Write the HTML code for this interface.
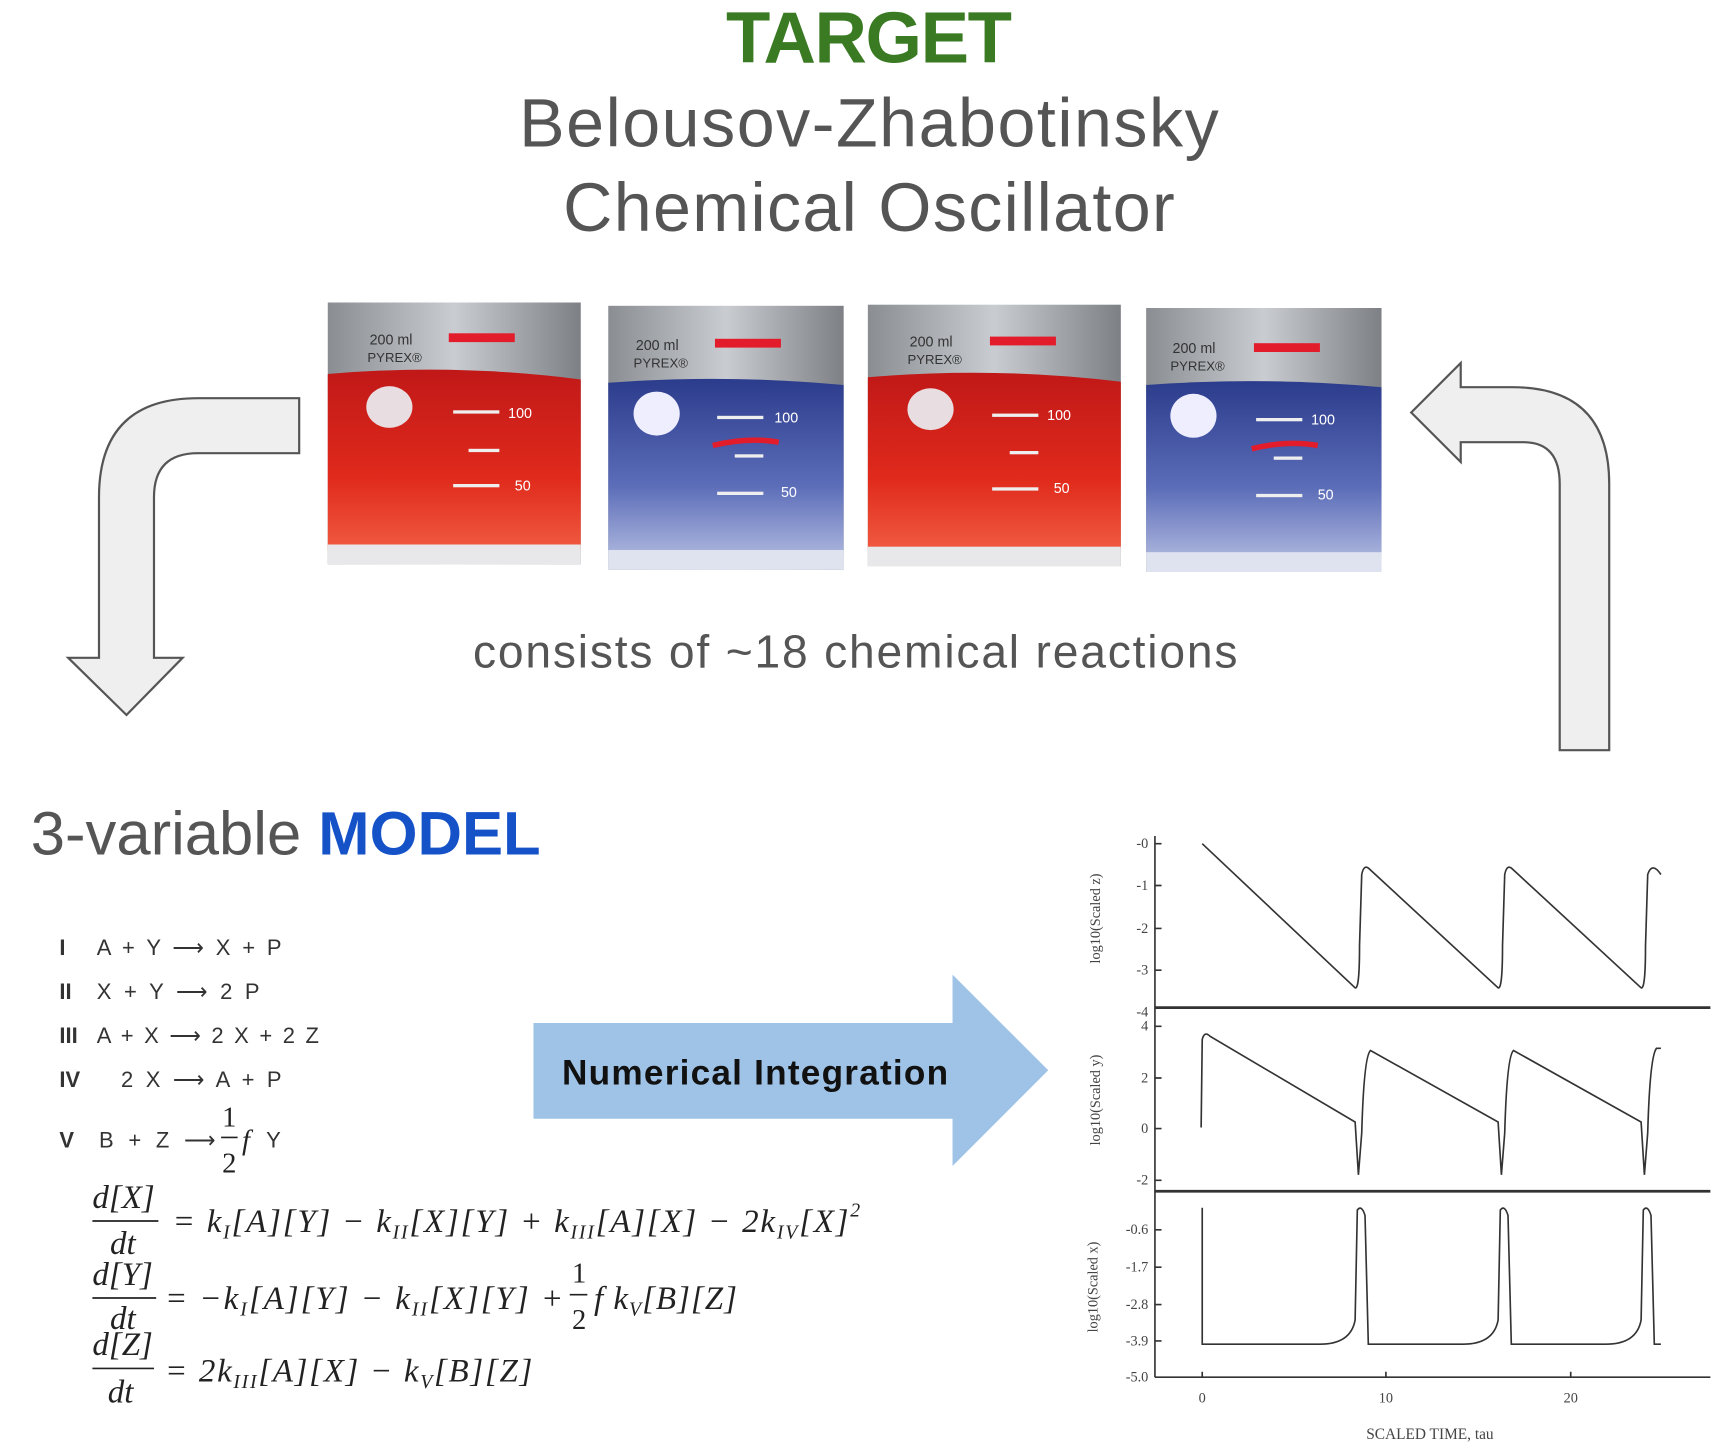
<!DOCTYPE html>
<html><head><meta charset="utf-8"><style>html,body{margin:0;padding:0;background:#fff}svg{display:block}</style></head>
<body>
<svg width="1717" height="1452" viewBox="0 0 1561 1320" preserveAspectRatio="none" xmlns="http://www.w3.org/2000/svg" font-family="Liberation Sans, sans-serif">
<defs>
<linearGradient id="red" x1="0" y1="0" x2="0" y2="1"><stop offset="0" stop-color="#c01818"/><stop offset="0.6" stop-color="#e02a1c"/><stop offset="1" stop-color="#f05a40"/></linearGradient>
<linearGradient id="blue" x1="0" y1="0" x2="0" y2="1"><stop offset="0" stop-color="#2c3c8c"/><stop offset="0.6" stop-color="#5b6cb8"/><stop offset="1" stop-color="#aab4dc"/></linearGradient>
<linearGradient id="glass" x1="0" y1="0" x2="1" y2="0"><stop offset="0" stop-color="#8a8d92"/><stop offset="0.5" stop-color="#c9ccd0"/><stop offset="1" stop-color="#7d8085"/></linearGradient>
</defs>
<text x="790" y="57" text-anchor="middle" font-size="66" font-weight="bold" fill="#3a7a23" textLength="260">TARGET</text>
<text x="790" y="133" text-anchor="middle" font-size="62" fill="#555" textLength="636">Belousov-Zhabotinsky</text>
<text x="790" y="210" text-anchor="middle" font-size="62" fill="#555" textLength="556">Chemical Oscillator</text>

<g>
<rect x="298" y="275" width="230" height="238" fill="url(#glass)"/>
<path d="M298 340 Q413 330 528 345 L528 500 L298 500Z" fill="url(#red)"/>
<rect x="298" y="495" width="230" height="18" fill="#e8e8ea"/>
<rect x="408" y="303" width="60" height="8" fill="#e31c2c"/>
<ellipse cx="354" cy="370" rx="21" ry="19" fill="#e8dde0"/>
<rect x="412" y="373" width="42" height="3" fill="#eee"/><rect x="412" y="440" width="42" height="3" fill="#eee"/><rect x="426" y="408" width="28" height="3" fill="#eee"/>
<text x="462" y="380" font-size="13" fill="#fff">100</text><text x="468" y="446" font-size="13" fill="#fff">50</text>
<text x="336" y="313" font-size="13" fill="#333">200 ml</text><text x="334" y="329" font-size="12" fill="#333">PYREX®</text>
</g>
<g>
<rect x="553" y="278" width="214" height="240" fill="url(#glass)"/>
<path d="M553 348 Q660 340 767 350 L767 505 L553 505Z" fill="url(#blue)"/>
<rect x="553" y="500" width="214" height="18" fill="#dfe3f0"/>
<rect x="650" y="308" width="60" height="8" fill="#e31c2c"/>
<ellipse cx="597" cy="376" rx="21" ry="20" fill="#eef"/>
<rect x="652" y="378" width="42" height="3" fill="#eee"/><rect x="652" y="447" width="42" height="3" fill="#eee"/><rect x="668" y="413" width="26" height="3" fill="#eee"/>
<path d="M648 405 Q680 397 708 402" stroke="#e31c2c" stroke-width="5" fill="none"/>
<text x="704" y="384" font-size="13" fill="#fff">100</text><text x="710" y="452" font-size="13" fill="#fff">50</text>
<text x="578" y="318" font-size="13" fill="#333">200 ml</text><text x="576" y="334" font-size="12" fill="#333">PYREX®</text>
</g>
<g>
<rect x="789" y="277" width="230" height="238" fill="url(#glass)"/>
<path d="M789 343 Q904 333 1019 347 L1019 500 L789 500Z" fill="url(#red)"/>
<rect x="789" y="497" width="230" height="18" fill="#e8e8ea"/>
<rect x="900" y="306" width="60" height="8" fill="#e31c2c"/>
<ellipse cx="846" cy="372" rx="21" ry="19" fill="#e8dde0"/>
<rect x="902" y="376" width="42" height="3" fill="#eee"/><rect x="902" y="443" width="42" height="3" fill="#eee"/><rect x="918" y="410" width="26" height="3" fill="#eee"/>
<text x="952" y="382" font-size="13" fill="#fff">100</text><text x="958" y="448" font-size="13" fill="#fff">50</text>
<text x="827" y="315" font-size="13" fill="#333">200 ml</text><text x="825" y="331" font-size="12" fill="#333">PYREX®</text>
</g>
<g>
<rect x="1042" y="280" width="214" height="240" fill="url(#glass)"/>
<path d="M1042 350 Q1149 342 1256 352 L1256 507 L1042 507Z" fill="url(#blue)"/>
<rect x="1042" y="502" width="214" height="18" fill="#dfe3f0"/>
<rect x="1140" y="312" width="60" height="8" fill="#e31c2c"/>
<ellipse cx="1085" cy="378" rx="21" ry="20" fill="#eef"/>
<rect x="1142" y="380" width="42" height="3" fill="#eee"/><rect x="1142" y="449" width="42" height="3" fill="#eee"/><rect x="1158" y="415" width="26" height="3" fill="#eee"/>
<path d="M1138 408 Q1170 400 1198 405" stroke="#e31c2c" stroke-width="5" fill="none"/>
<text x="1192" y="386" font-size="13" fill="#fff">100</text><text x="1198" y="454" font-size="13" fill="#fff">50</text>
<text x="1066" y="321" font-size="13" fill="#333">200 ml</text><text x="1064" y="337" font-size="12" fill="#333">PYREX®</text>
</g>

<path d="M272 362 L180 362 Q90 362 90 452 L90 598 L62 598 L115 650 L166 598 L140 598 L140 452 Q140 412 180 412 L272 412 Z" fill="#efefef" stroke="#555" stroke-width="2"/>
<path d="M1418 682 L1463 682 L1463 440 Q1463 352 1375 352 L1328 352 L1328 330 L1283 375 L1328 420 L1328 402 L1385 402 Q1418 402 1418 440 Z" fill="#efefef" stroke="#555" stroke-width="2"/>

<text x="430" y="607" font-size="42" fill="#555" textLength="695">consists of ~18 chemical reactions</text>
<text x="28" y="777" font-size="56" fill="#555">3-variable <tspan font-weight="bold" fill="#1552c8">MODEL</tspan></text>

<g font-size="20" fill="#333">
<text x="54" y="868" font-weight="bold">I</text><text x="88" y="868" textLength="168">A + Y ⟶ X + P</text>
<text x="54" y="908" font-weight="bold">II</text><text x="88" y="908" textLength="148">X + Y ⟶ 2 P</text>
<text x="54" y="948" font-weight="bold">III</text><text x="88" y="948" textLength="202">A + X ⟶ 2 X + 2 Z</text>
<text x="54" y="988" font-weight="bold">IV</text><text x="110" y="988" textLength="146">2 X ⟶ A + P</text>
<text x="54" y="1043" font-weight="bold">V</text><text x="90" y="1043" textLength="106">B + Z ⟶</text><text x="242" y="1043">Y</text>
</g>
<g font-family="Liberation Serif, serif" fill="#222">
<text x="202" y="1024" font-size="26">1</text><line x1="201" y1="1034" x2="216" y2="1034" stroke="#222" stroke-width="1.5"/><text x="202" y="1066" font-size="26">2</text>
<text x="220" y="1045" font-size="26" font-style="italic">f</text>
<g font-size="30" font-style="italic">
<text x="84" y="1098">d[X]</text><line x1="84" y1="1110" x2="144" y2="1110" stroke="#222" stroke-width="1.5"/><text x="100" y="1140">dt</text>
<text x="157" y="1120" textLength="625">= k<tspan font-size="18" dy="6">I</tspan><tspan dy="-6">[A][Y] − k</tspan><tspan font-size="18" dy="6">II</tspan><tspan dy="-6">[X][Y] + k</tspan><tspan font-size="18" dy="6">III</tspan><tspan dy="-6">[A][X] − 2k</tspan><tspan font-size="18" dy="6">IV</tspan><tspan dy="-6">[X]</tspan><tspan font-size="18" dy="-14">2</tspan></text>
<text x="84" y="1168">d[Y]</text><line x1="84" y1="1180" x2="142" y2="1180" stroke="#222" stroke-width="1.5"/><text x="100" y="1208">dt</text>
<text x="150" y="1190" textLength="362">= −k<tspan font-size="18" dy="6">I</tspan><tspan dy="-6">[A][Y] − k</tspan><tspan font-size="18" dy="6">II</tspan><tspan dy="-6">[X][Y] +</tspan></text>
<text x="520" y="1166" font-style="normal" font-size="26">1</text><line x1="518" y1="1177" x2="534" y2="1177" stroke="#222" stroke-width="1.5"/><text x="520" y="1208" font-style="normal" font-size="26">2</text>
<text x="540" y="1190" textLength="130">f k<tspan font-size="18" dy="6">V</tspan><tspan dy="-6">[B][Z]</tspan></text>
<text x="84" y="1232">d[Z]</text><line x1="84" y1="1244" x2="140" y2="1244" stroke="#222" stroke-width="1.5"/><text x="98" y="1275">dt</text>
<text x="150" y="1256" textLength="334">= 2k<tspan font-size="18" dy="6">III</tspan><tspan dy="-6">[A][X] − k</tspan><tspan font-size="18" dy="6">V</tspan><tspan dy="-6">[B][Z]</tspan></text>
</g></g>

<path d="M485 930 L866 930 L866 886 L953 973 L866 1060 L866 1017 L485 1017 Z" fill="#9fc3e7"/>
<text x="511" y="986" font-size="32" font-weight="bold" fill="#111" textLength="351">Numerical Integration</text>

<g stroke="#333" fill="none" stroke-width="1.5">
<line x1="1050" y1="760" x2="1050" y2="1252"/>
<line x1="1050" y1="916" x2="1555" y2="916" stroke-width="2.5"/>
<line x1="1050" y1="1083" x2="1555" y2="1083" stroke-width="2.5"/>
<line x1="1050" y1="1252" x2="1555" y2="1252"/>
<path d="M1093 767 L1232 898 Q1236 900 1236 860 L1238 795 Q1240 785 1245 790 L1362 898 Q1366 900 1366 860 L1368 795 Q1370 785 1375 790 L1492 898 Q1496 900 1496 860 L1498 795 Q1502 783 1510 795"/>
<path d="M1092 1025 L1093 945 Q1095 937 1100 942 L1232 1020 L1235 1068 L1238 1030 Q1240 960 1246 955 L1362 1020 L1365 1068 L1368 1030 Q1370 960 1376 955 L1492 1020 L1495 1068 L1498 1030 Q1500 960 1506 953 L1510 953"/>
<path d="M1093 1098 L1093 1222 L1200 1222 Q1228 1222 1232 1200 L1234 1100 Q1238 1095 1241 1105 L1244 1222 L1330 1222 Q1358 1222 1362 1200 L1364 1100 Q1368 1095 1371 1105 L1374 1222 L1460 1222 Q1488 1222 1492 1200 L1494 1100 Q1498 1095 1501 1105 L1504 1222 L1510 1222"/>
<path d="M1050 767 h6 M1050 805 h6 M1050 844 h6 M1050 882 h6 M1050 933 h6 M1050 980 h6 M1050 1026 h6 M1050 1073 h6 M1050 1118 h6 M1050 1152 h6 M1050 1186 h6 M1050 1219 h6 M1093 1252 v-5 M1260 1252 v-5 M1428 1252 v-5"/>
</g>
<g font-family="Liberation Serif, serif" font-size="13" fill="#444" text-anchor="end">
<text x="1044" y="771">-0</text><text x="1044" y="809">-1</text><text x="1044" y="848">-2</text><text x="1044" y="886">-3</text><text x="1044" y="924">-4</text>
<text x="1044" y="937">4</text><text x="1044" y="984">2</text><text x="1044" y="1030">0</text><text x="1044" y="1077">-2</text>
<text x="1044" y="1122">-0.6</text><text x="1044" y="1156">-1.7</text><text x="1044" y="1190">-2.8</text><text x="1044" y="1223">-3.9</text><text x="1044" y="1256">-5.0</text>
</g>
<g font-family="Liberation Serif, serif" font-size="13" fill="#444" text-anchor="middle">
<text x="1093" y="1275">0</text><text x="1260" y="1275">10</text><text x="1428" y="1275">20</text>
<text x="1300" y="1308" font-size="14">SCALED TIME, tau</text>
<text transform="translate(1000 835) rotate(-90)" font-size="13">log10(Scaled z)</text>
<text transform="translate(1000 1000) rotate(-90)" font-size="13">log10(Scaled y)</text>
<text transform="translate(998 1170) rotate(-90)" font-size="13">log10(Scaled x)</text>
</g>
</svg>
</body></html>
